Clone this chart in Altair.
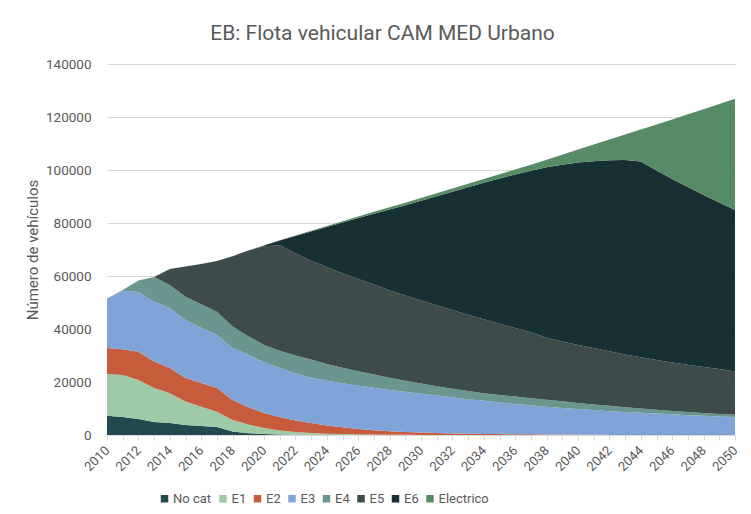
import altair as alt
import pandas as pd

years = list(range(2010, 2051))
series_names = ["No cat", "E1", "E2", "E3", "E4", "E5", "E6", "Electrico"]
series_colors = ["#22494f", "#9ecaa8", "#c75c3d", "#80a3d8", "#6a968f", "#3d4b4a", "#163034", "#578b65"]

no_cat = [7300, 6800, 6000, 4900, 4500, 3800, 3400, 3000, 1300, 700,
          400, 200, 100, 50, 0, 0, 0, 0, 0, 0,
          0, 0, 0, 0, 0, 0, 0, 0, 0, 0,
          0, 0, 0, 0, 0, 0, 0, 0, 0, 0,
          0]
e1 = [15700, 15800, 14800, 12800, 11300, 8800, 7300, 5800, 4400, 3300,
      2200, 1500, 1000, 700, 500, 350, 250, 150, 100, 50,
      0, 0, 0, 0, 0, 0, 0, 0, 0, 0,
      0, 0, 0, 0, 0, 0, 0, 0, 0, 0,
      0]
e2 = [9800, 9800, 10600, 10000, 9500, 8900, 8900, 8900, 7500, 6500,
      5700, 5100, 4400, 3750, 3100, 2550, 2050, 1650, 1300, 1050,
      900, 750, 600, 500, 420, 350, 300, 250, 200, 150,
      100, 50, 0, 0, 0, 0, 0, 0, 0, 0,
      0]
e3 = [18700, 22000, 22600, 22600, 22600, 21900, 20900, 20000, 19600, 19800,
      19200, 18500, 17700, 17100, 16900, 16600, 16300, 16000, 15600, 15200,
      14700, 14150, 13600, 13000, 12480, 11950, 11400, 10950, 10500, 10050,
      9700, 9350, 9000, 8700, 8400, 8100, 7800, 7500, 7250, 7000,
      6800]
e4 = [0, 300, 4300, 9300, 8700, 8800, 8800, 8800, 8100, 7000,
      6500, 6500, 6800, 6900, 6300, 5900, 5500, 5000, 4600, 4200,
      3800, 3500, 3300, 3100, 2900, 2800, 2800, 2700, 2600, 2500,
      2300, 2100, 2000, 1800, 1600, 1400, 1300, 1200, 1050, 900,
      800]
e5 = [0, 0, 0, 0, 6000, 11400, 15200, 19200, 26600, 32300,
      37200, 39800, 38500, 37300, 36600, 35600, 34800, 34000, 32900, 32100,
      31400, 30600, 29700, 28800, 27900, 26900, 25900, 24900, 23400, 22600,
      21900, 21300, 20600, 19900, 19300, 18800, 18300, 17800, 17400, 17000,
      16400]
e6 = [0, 0, 0, 0, 0, 0, 0, 0, 0, 0,
      300, 1800, 6600, 11000, 15100, 19200, 23000, 26700, 30600, 34100,
      37600, 41100, 44600, 48100, 51450, 54800, 57900, 60900, 64300, 66700,
      68800, 70500, 72100, 73400, 73900, 71500, 69200, 67100, 64900, 62800,
      60900]
electrico = [0, 0, 0, 0, 0, 0, 0, 0, 0, 0,
             0, 100, 200, 300, 400, 500, 600, 700, 800, 900,
             1000, 1100, 1200, 1300, 1450, 1600, 1900, 2300, 2900, 3800,
             4900, 6300, 7800, 9600, 12100, 17400, 22500, 27400, 32300, 37200,
             42000]

y_ticks = [0, 20000, 40000, 60000, 80000, 100000, 120000, 140000]

all_series = [no_cat, e1, e2, e3, e4, e5, e6, electrico]
rows = []
for idx, (name, vals) in enumerate(zip(series_names, all_series)):
    for yr, v in zip(years, vals):
        rows.append({"year": yr, "serie": name, "value": v, "idx": idx})
df = pd.DataFrame(rows)

TXT = "#595959"
FONT = "Roboto"

chart = alt.Chart(df).mark_area(opacity=1, strokeWidth=0).encode(
    x=alt.X("year:Q",
            scale=alt.Scale(domain=[2010, 2050], nice=False, zero=False),
            axis=alt.Axis(values=years, format="d",
                          labelExpr="datum.value % 2 == 0 ? datum.label : ''",
                          labelAngle=-45, labelAlign="right", labelBaseline="middle",
                          labelOverlap=False, labelFlush=False,
                          labelFontSize=13, labelColor=TXT, labelFont=FONT, labelPadding=8,
                          tickSize=5, tickColor="#d9d9d9", domainColor="#d9d9d9",
                          grid=False, title=None)),
    y=alt.Y("value:Q", stack="zero",
            scale=alt.Scale(domain=[0, 140000], nice=False),
            axis=alt.Axis(values=y_ticks, format="d", grid=True, gridColor="#d9d9d9",
                          domain=False, ticks=False, labelPadding=16,
                          labelFontSize=13.5, labelColor=TXT, labelFont=FONT,
                          title="Número de vehículos", titleFontSize=15,
                          titleFontWeight="normal", titleColor=TXT, titleFont=FONT,
                          titleX=-75, titleY=185.5, titleBaseline="middle")),
    color=alt.Color("serie:N", sort=series_names,
                    scale=alt.Scale(domain=series_names, range=series_colors),
                    legend=alt.Legend(title=None, orient="none", legendX=51, legendY=428,
                                      direction="horizontal", columns=8,
                                      symbolType="square", symbolSize=56, symbolStrokeWidth=0,
                                      labelFontSize=13, labelColor=TXT, labelFont=FONT,
                                      columnPadding=4.5, labelOffset=2, padding=0)),
    order=alt.Order("idx:Q", sort="ascending"),
).properties(
    width=628,
    height=371,
    title=alt.TitleParams(text="EB: Flota vehicular CAM MED Urbano", fontSize=21,
                          fontWeight="normal", color=TXT, font=FONT,
                          anchor="middle", frame="bounds", offset=13),
    autosize=alt.AutoSizeParams(type="none"),
    padding={"left": 99, "top": 56, "right": 8, "bottom": 71},
).configure_view(strokeWidth=0)

chart.save("out.html", embed_options={"renderer": "svg", "actions": False})
